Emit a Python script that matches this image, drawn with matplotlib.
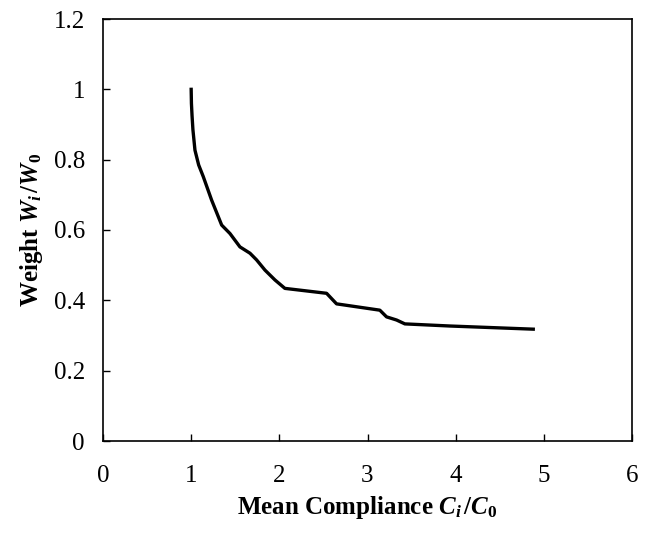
import matplotlib
matplotlib.use("Agg")
import matplotlib.pyplot as plt

compliance = [1.0, 1.003, 1.01, 1.02, 1.043, 1.085, 1.137, 1.232, 1.346, 1.44, 1.553, 1.667, 1.742,
              1.837, 1.95, 2.063, 2.536, 2.649, 3.14, 3.216, 3.33, 3.424, 3.934, 4.88]
weight = [1.0, 0.96, 0.925, 0.885, 0.827, 0.785, 0.752, 0.685, 0.614, 0.59, 0.552, 0.534, 0.515,
          0.486, 0.458, 0.434, 0.420, 0.390, 0.372, 0.353, 0.344, 0.333, 0.327, 0.318]

x_ticks = [0, 1, 2, 3, 4, 5, 6]
y_ticks = [0, 0.2, 0.4, 0.6, 0.8, 1, 1.2]
y_tick_labels = ["0", "0.2", "0.4", "0.6", "0.8", "1", "1.2"]

plt.rcParams['font.family'] = ['Liberation Serif', 'DejaVu Serif']
plt.rcParams['mathtext.fontset'] = 'custom'
plt.rcParams['mathtext.rm'] = 'Liberation Serif:bold'
plt.rcParams['mathtext.it'] = 'Liberation Serif:italic:bold'
plt.rcParams['mathtext.bf'] = 'Liberation Serif:bold'

fig = plt.figure(figsize=(6.51, 5.37), dpi=100)
ax = fig.add_axes([103/651, 1-441/537, (632-103)/651, (441-19)/537])

ax.plot(compliance, weight, color='black', linewidth=2.4, solid_joinstyle='round')

ax.set_xlim(0, 6)
ax.set_ylim(0, 1.2)
ax.set_xticks(x_ticks)
ax.set_xticklabels([str(t) for t in x_ticks])
ax.set_yticks(y_ticks)
ax.set_yticklabels(y_tick_labels)
ax.tick_params(direction='in', length=5, width=1, labelsize=18)
ax.tick_params(axis='x', pad=17)
ax.tick_params(axis='y', pad=13)
for s in ax.spines.values():
    s.set_linewidth(1.2)

ax.set_xlabel(r'Mean Compliance $C_{i}\,/C_{0}$', fontsize=18, fontweight='bold', labelpad=5)
ax.set_ylabel(r'Weight $W_{i}\,/W_{0}$', fontsize=18, fontweight='bold', labelpad=6)

fig.savefig('out.png', dpi=100)
